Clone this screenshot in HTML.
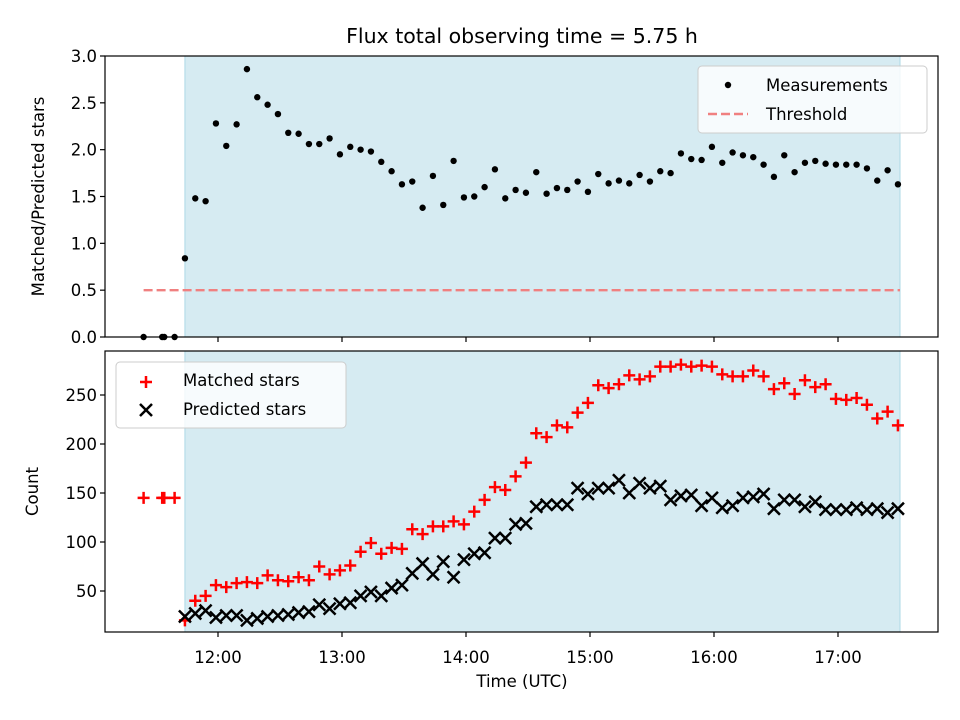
<!DOCTYPE html>
<html><head><meta charset="utf-8"><style>
html,body{margin:0;padding:0;background:#fff;}
svg{display:block;font-family:"DejaVu Sans","Liberation Sans",sans-serif;}
</style></head><body>
<svg id="fig" width="960" height="720" viewBox="0 0 960 720" xmlns="http://www.w3.org/2000/svg"></svg>
<script>
const startMin = 704; // 11:44
const stepMin = 5;
const ratioValues = [0.84,1.48,1.45,2.28,2.04,2.27,2.86,2.56,2.48,2.38,2.18,2.17,2.06,2.06,2.12,1.95,2.03,2.00,1.98,1.87,1.77,1.63,1.66,1.38,1.72,1.41,1.88,1.49,1.50,1.60,1.79,1.48,1.57,1.54,1.76,1.53,1.59,1.57,1.66,1.55,1.74,1.64,1.67,1.64,1.73,1.66,1.77,1.75,1.96,1.90,1.89,2.03,1.86,1.97,1.94,1.92,1.84,1.71,1.94,1.76,1.86,1.88,1.85,1.84,1.84,1.84,1.80,1.67,1.78,1.63];
const matchedValues = [20,40,45,56,54,58,59,58,66,61,60,64,61,75,67,71,76,90,99,88,94,93,113,108,116,116,121,118,131,143,156,153,167,181,211,207,219,217,232,242,260,257,261,270,266,269,279,279,281,279,280,279,271,269,269,275,269,256,262,251,265,258,261,246,245,247,240,226,233,219];
const predictedValues = [24,27,30,23,25,25,20,22,24,25,26,28,29,36,32,37,38,45,49,45,53,56,68,78,67,80,64,82,88,89,104,104,118,119,136,138,138,138,155,149,155,155,163,150,160,155,157,143,147,148,137,145,135,137,145,146,149,134,143,143,136,141,133,133,133,135,133,134,130,134];
const preTimes = [684,693,694,699];
const preRatio = [0,0,0,0];
const preMatched = [145,145,145,145];
const topTicks = [0,0.5,1.0,1.5,2.0,2.5,3.0];
const bottomTicks = [50,100,150,200,250];
const xTickMinutes = [720,780,840,900,960,1020];
const xTickLabels = ["12:00","13:00","14:00","15:00","16:00","17:00"];
const threshold = 0.5;
const thresholdStart = 684, thresholdEnd = 1050;
const spanStart = 704, spanEnd = 1050;

const NS="http://www.w3.org/2000/svg";
const svg=document.getElementById('fig');
function el(tag,attrs,parent){const e=document.createElementNS(NS,tag);for(const k in attrs)e.setAttribute(k,attrs[k]);(parent||svg).appendChild(e);return e;}
const L=105,R=938;
const X=m=>218+(m-720)*124/60;
const topT=56,topB=337,botT=351,botB=632;
const Yt=v=>topB-(v/3)*(topB-topT);
const Yb=v=>591-(v-50)*0.98;
const FS=16.5;

let t=el('text',{x:522,y:43,'text-anchor':'middle','font-size':20.5,fill:'#000'});


t.textContent='Flux total observing time = 5.75 h';

function panel(top,bot,name){
  const g=el('g',{});
  
  
  const s=el('rect',{x:X(spanStart),y:top,width:X(spanEnd)-X(spanStart),height:bot-top,fill:'#add8e6','fill-opacity':0.5,stroke:'#add8e6','stroke-width':1},g);
  
  
  return g;
}
function frame(g,top,bot){
  el('rect',{x:L,y:top,width:R-L,height:bot-top,fill:'none',stroke:'#000','stroke-width':1.2},g);
  xTickMinutes.forEach((m,i)=>{
    el('line',{x1:X(m),x2:X(m),y1:bot,y2:bot+5,stroke:'#000','stroke-width':1.2},g);
  });
}
const gt=panel(topT,topB,'ratio-panel');
const th=el('line',{x1:X(thresholdStart),x2:X(thresholdEnd),y1:Yt(threshold),y2:Yt(threshold),stroke:'#f08080','stroke-width':2.4,'stroke-dasharray':'9,4'},gt);


preTimes.forEach((m,i)=>{
  const c=el('circle',{cx:X(m),cy:Yt(preRatio[i]),r:3.2,fill:'#000'},gt);
  
  
});
ratioValues.forEach((v,i)=>{
  const c=el('circle',{cx:X(startMin+i*stepMin),cy:Yt(v),r:3.2,fill:'#000'},gt);
  
  
});
frame(gt,topT,topB);
topTicks.forEach(v=>{
  el('line',{x1:L-5,x2:L,y1:Yt(v),y2:Yt(v),stroke:'#000','stroke-width':1.2},gt);
  const tx=el('text',{x:L-8,y:Yt(v)+6,'text-anchor':'end','font-size':FS},gt);
  
  
  tx.textContent=v.toFixed(1);
});
let yl=el('text',{x:0,y:0,'font-size':FS,'text-anchor':'middle',transform:`translate(44,${(topT+topB)/2}) rotate(-90)`});


yl.textContent='Matched/Predicted stars';
const lg=el('g',{});


el('rect',{x:698,y:66,width:229,height:67,rx:4,fill:'#fff','fill-opacity':0.8,stroke:'#ccc'},lg);
el('circle',{cx:728,cy:85,r:3.2,fill:'#000'},lg);
let lt=el('text',{x:766,y:91,'font-size':FS},lg);lt.textContent='Measurements';
el('line',{x1:708,x2:748,y1:114,y2:114,stroke:'#f08080','stroke-width':2.4,'stroke-dasharray':'9,4'},lg);
lt=el('text',{x:766,y:120,'font-size':FS},lg);lt.textContent='Threshold';

const gb=panel(botT,botB,'count-panel');
function plus(x,y,g){const p=el('path',{d:`M${x-6},${y}H${x+6}M${x},${y-6}V${y+6}`,stroke:'#ff0000','stroke-width':2.5},g);}
function cross(x,y,g){const p=el('path',{d:`M${x-6},${y-6}L${x+6},${y+6}M${x-6},${y+6}L${x+6},${y-6}`,stroke:'#000','stroke-width':2.5},g);}
preTimes.forEach((m,i)=>plus(X(m),Yb(preMatched[i]),gb));
matchedValues.forEach((v,i)=>plus(X(startMin+i*stepMin),Yb(v),gb));
predictedValues.forEach((v,i)=>cross(X(startMin+i*stepMin),Yb(v),gb));
frame(gb,botT,botB);
bottomTicks.forEach(v=>{
  el('line',{x1:L-5,x2:L,y1:Yb(v),y2:Yb(v),stroke:'#000','stroke-width':1.2},gb);
  const tx=el('text',{x:L-8,y:Yb(v)+6,'text-anchor':'end','font-size':FS},gb);
  
  
  tx.textContent=v;
});
xTickMinutes.forEach((m,i)=>{
  const tx=el('text',{x:X(m),y:663,'text-anchor':'middle','font-size':FS},gb);
  
  
  tx.textContent=xTickLabels[i];
});
yl=el('text',{x:0,y:0,'font-size':FS,'text-anchor':'middle',transform:`translate(38,${(botT+botB)/2}) rotate(-90)`});


yl.textContent='Count';
let xl=el('text',{x:522,y:687,'font-size':FS,'text-anchor':'middle'});


xl.textContent='Time (UTC)';
const lb=el('g',{});


el('rect',{x:116,y:362,width:230,height:66,rx:4,fill:'#fff','fill-opacity':0.8,stroke:'#ccc'},lb);
el('path',{d:'M140,382H152M146,376V388',stroke:'#ff0000','stroke-width':2.5},lb);
lt=el('text',{x:183,y:386,'font-size':FS},lb);lt.textContent='Matched stars';
el('path',{d:'M140,404L152,416M140,416L152,404',stroke:'#000','stroke-width':2.5},lb);
lt=el('text',{x:183,y:415,'font-size':FS},lb);lt.textContent='Predicted stars';
</script>
</body></html>
